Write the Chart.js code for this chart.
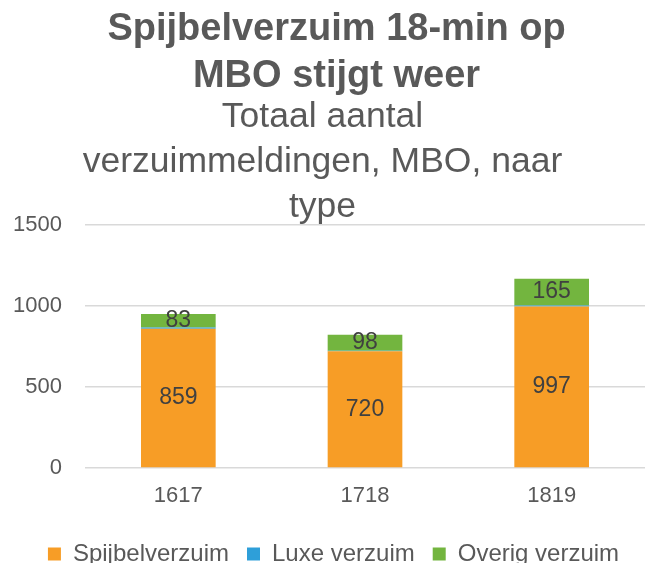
<!DOCTYPE html>
<html>
<head>
<meta charset="utf-8">
<script src="https://cdn.jsdelivr.net/npm/chart.js@4"></script>
<style>
    html, body { margin: 0; padding: 0; background: #ffffff; }
    #wrap { width: 645px; height: 563px; }
</style>
</head>
<body>
<div id="wrap"><canvas id="verzuim"></canvas></div>
<script>
// Data
const jaren = ['1617', '1718', '1819'];
const spijbel = [859, 720, 997];
const luxe = [8, 4, 6];
const overig = [83, 98, 165];
const yTicks = [0, 500, 1000, 1500];

const tekstKleur = '#595959';
const lettertype = '"Liberation Sans", Arial, sans-serif';

// Labels in het midden van de segmenten (alleen spijbel + overig)
const segmentLabels = {
    id: 'segmentLabels',
    afterDatasetsDraw(chart) {
        const ctx = chart.ctx;
        ctx.save();
        ctx.font = '23px ' + lettertype;
        ctx.fillStyle = '#404040';
        ctx.textAlign = 'center';
        ctx.textBaseline = 'middle';
        [0, 2].forEach((i) => {
            const meta = chart.getDatasetMeta(i);
            meta.data.forEach((bar, j) => {
                const p = bar.getCenterPoint();
                ctx.fillText(chart.data.datasets[i].data[j], p.x, p.y);
            });
        });
        ctx.restore();
    }
};

// Titel en legenda staan in het origineel iets naar rechts
const verschuif = {
    id: 'verschuif',
    afterLayout(chart) {
        chart.titleBlock.left += 14;
        chart.titleBlock.right += 14;
        chart.legend.left += 11;
        chart.legend.right += 11;
    }
};

let chart = new Chart(document.getElementById('verzuim'), {
    type: 'bar',
    data: {
        labels: jaren,
        datasets: [
            { label: 'Spijbelverzuim', data: spijbel, backgroundColor: '#F79D26' },
            { label: 'Luxe verzuim', data: luxe, backgroundColor: '#2E9FD9' },
            { label: 'Overig verzuim', data: overig, backgroundColor: '#73B53F' }
        ]
    },
    options: {
        responsive: true,
        maintainAspectRatio: false,
        animation: false,
        layout: { padding: { left: 0, right: 0, top: 0, bottom: -13 } },
        datasets: {
            bar: { barPercentage: 0.4, categoryPercentage: 1 }
        },
        scales: {
            x: {
                stacked: true,
                grid: { display: false, drawTicks: false },
                border: { display: false },
                ticks: { color: tekstKleur, font: { size: 22, family: lettertype }, padding: 15 },
                afterFit: (axis) => { axis.height = 56; }
            },
            y: {
                stacked: true,
                min: 0,
                max: 1500,
                afterBuildTicks: (axis) => { axis.ticks = yTicks.map((v) => ({ value: v })); },
                grid: { color: '#d9d9d9', lineWidth: 1.5, drawTicks: false },
                border: { display: false },
                ticks: {
                    color: tekstKleur,
                    font: { size: 22, family: lettertype },
                    padding: 23,
                    callback: (v) => String(v)
                },
                afterFit: (axis) => { axis.width = 85; }
            }
        },
        plugins: {
            title: {
                display: true,
                text: ['Spijbelverzuim 18-min op', 'MBO stijgt weer'],
                color: tekstKleur,
                font: { size: 38, weight: 'bold', family: lettertype, lineHeight: 47 / 38 },
                padding: { top: 6, bottom: 0 }
            },
            subtitle: {
                display: true,
                text: ['Totaal aantal', 'verzuimmeldingen, MBO, naar', 'type'],
                color: tekstKleur,
                font: { size: 35.5, family: lettertype, lineHeight: 45 / 35.5 },
                padding: { top: -5, bottom: -5 }
            },
            legend: {
                position: 'bottom',
                labels: {
                    color: tekstKleur,
                    boxWidth: 13,
                    boxHeight: 13,
                    padding: 18,
                    font: { size: 24, family: lettertype }
                }
            },
            tooltip: { enabled: false }
        }
    },
    plugins: [segmentLabels, verschuif]
});
</script>
</body>
</html>
